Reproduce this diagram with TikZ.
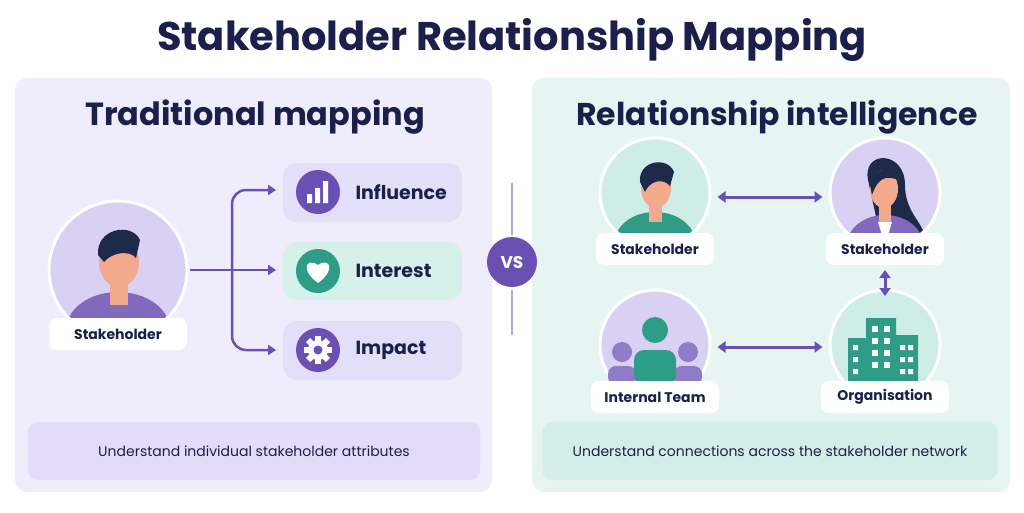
\documentclass[tikz,border=0pt]{standalone}
\usepackage{fontspec}
\setmainfont{Poppins}
\usetikzlibrary{arrows.meta,calc}
\definecolor{navy}{HTML}{1B1F4B}
\definecolor{purp}{HTML}{6B50B3}
\definecolor{lpan}{HTML}{EFECFB}
\definecolor{mpan}{HTML}{E6F5F1}
\definecolor{lcirc}{HTML}{D8D1F4}
\definecolor{mcirc}{HTML}{CDEDE6}
\definecolor{teal}{HTML}{2E9C86}
\definecolor{skin}{HTML}{F2A98C}
\definecolor{hair}{HTML}{1E2A4A}
\definecolor{lbox}{HTML}{E2DCF8}
\definecolor{mbox}{HTML}{D3EEE8}
\definecolor{pill}{HTML}{E4DFF8}
\definecolor{pillm}{HTML}{D6F0EA}
\begin{document}
\begin{tikzpicture}[x=1pt,y=-1pt,
 panel/.style={rounded corners=12pt,draw=none},
 lab/.style={fill=white,rounded corners=8pt,minimum height=32pt,font=\fontsize{14}{16}\selectfont\bfseries,text=navy},
 conn/.style={draw=purp,line width=2.5pt,-{Triangle[length=8pt,width=10pt]}},
 dbl/.style={draw=purp,line width=3pt,{Triangle[length=8pt,width=11pt]}-{Triangle[length=8pt,width=11pt]}},
 bigc/.style={circle,draw=white,line width=3pt},
 pilltxt/.style={font=\fontsize{19}{21}\selectfont\bfseries,text=navy,anchor=west}]
\useasboundingbox (0,0) rectangle (1024,512);
\fill[white] (0,0) rectangle (1024,512);
\node[font=\fontsize{40}{44}\selectfont\bfseries,text=navy] (title) at (512,40) {Stakeholder Relationship Mapping};
\fill[panel,lpan] (15,78) rectangle (492,492);
\fill[panel,mpan] (532,78) rectangle (1010,492);
\node[font=\fontsize{32}{35}\selectfont\bfseries,text=navy] (lt) at (255,117) {Traditional mapping};
\node[font=\fontsize{31.5}{35}\selectfont\bfseries,text=navy] (rt) at (777,117) {Relationship intelligence};
% left stakeholder
\node[bigc,fill=lcirc,minimum size=138pt] (ls) at (118,270) {};
\begin{scope}
\clip (118,270) circle (67);
\fill[purp!85] (118,330) ellipse (52 and 38);
\fill[skin] (110,285) rectangle (128,305);
\fill[skin] (119,262) ellipse (20 and 25);
\fill[hair] (98,255) .. controls (96,228) and (132,222) .. (140,240) -- (136,258) .. controls (130,250) and (112,252) .. (104,262) -- cycle;
\end{scope}
\node[lab,minimum width=138pt] (lsl) at (118,334) {Stakeholder};
% pills
\fill[rounded corners=14pt,pill] (283,163) rectangle (462,222);
\fill[rounded corners=14pt,pillm] (283,242) rectangle (462,300);
\fill[rounded corners=14pt,pill] (283,321) rectangle (462,380);
\node[circle,fill=purp,minimum size=44pt] (i1) at (318,192) {};
\node[circle,fill=teal,minimum size=44pt] (i2) at (318,271) {};
\node[circle,fill=purp,minimum size=44pt] (i3) at (318,350) {};
\fill[white] (307,194) rectangle (312,203) (315,188) rectangle (320,203) (323,181) rectangle (328,203);
\fill[white] (318,283) .. controls (300,270) and (306,257) .. (318,265) .. controls (330,257) and (336,270) .. (318,283) -- cycle;
\foreach \a in {0,45,...,315} \fill[white,rotate around={\a:(318,350)}] (315,336) rectangle (321,342);
\fill[white] (318,350) circle (10);
\fill[purp] (318,350) circle (4.5);
\node[pilltxt] (t1) at (352,192) {Influence};
\node[pilltxt] (t2) at (352,271) {Interest};
\node[pilltxt] (t3) at (352,350) {Impact};
\coordinate (b0) at (190,270);
\coordinate (bj) at (232,270);
\draw[purp,line width=2.5pt] (b0) -- (bj);
\draw[conn,rounded corners=14pt] (bj) |- (276,190);
\draw[conn] (bj) -- (276,270);
\draw[conn,rounded corners=14pt] (bj) |- (276,350);
% VS
\draw[purp!50,line width=1.5pt] (512,183) -- (512,235) (512,290) -- (512,335);
\node[circle,fill=purp,minimum size=50pt,text=white,font=\fontsize{17}{19}\selectfont\bfseries] (vs) at (512,262) {VS};
% right circles
\node[bigc,fill=mcirc,minimum size=110pt] (r1) at (655,193) {};
\node[bigc,fill=lcirc,minimum size=110pt] (r2) at (885,193) {};
\node[bigc,fill=lcirc,minimum size=110pt] (r3) at (655,345) {};
\node[bigc,fill=mcirc,minimum size=110pt] (r4) at (885,345) {};
\begin{scope}
\clip (655,193) circle (53);
\fill[teal] (655,242) ellipse (40 and 30);
\fill[skin] (649,205) rectangle (662,222);
\fill[skin] (656,188) ellipse (15 and 20);
\fill[hair] (640,182) .. controls (638,160) and (668,156) .. (674,172) -- (670,186) .. controls (664,178) and (650,180) .. (645,192) -- cycle;
\end{scope}
\begin{scope}
\clip (885,193) circle (53);
\fill[hair] (868,180) .. controls (862,150) and (905,150) .. (905,185) .. controls (905,210) and (920,220) .. (925,235) -- (880,235) -- cycle;
\fill[purp!85] (885,245) ellipse (38 and 30);
\fill[white] (878,222) -- (892,222) -- (885,245) -- cycle;
\fill[skin] (879,205) rectangle (891,222);
\fill[skin] (884,189) ellipse (14 and 19);
\fill[hair] (870,185) .. controls (872,165) and (898,165) .. (900,180) .. controls (890,178) and (880,172) .. (872,195) -- cycle;
\end{scope}
\begin{scope}
\fill[purp!75] (622,352) circle (10) (688,352) circle (10);
\fill[purp!75,rounded corners=8pt] (608,366) rectangle (636,385) (674,366) rectangle (702,385);
\fill[teal] (655,330) circle (13);
\fill[teal,rounded corners=10pt] (634,350) rectangle (676,385);
\end{scope}
\fill[teal] (848,338) rectangle (868,388) (866,318) rectangle (896,388) (894,335) rectangle (918,388);
\foreach \x in {872,884} \foreach \y in {326,338,350,362} \fill[white] (\x,\y) rectangle +(6,6);
\foreach \y in {345,357,369} \fill[white] (853,\y) rectangle +(5,5) (900,\y) rectangle +(5,5) (908,\y) rectangle +(5,5);
\node[lab,minimum width=118pt] (r1l) at (655,249) {Stakeholder};
\node[lab,minimum width=118pt] (r2l) at (885,249) {Stakeholder};
\node[lab,minimum width=128pt] (r3l) at (655,397) {Internal Team};
\node[lab,minimum width=128pt] (r4l) at (885,397) {Organisation};
\draw[dbl] ($(r1.east)+(6,4)$) -- ($(r2.west)+(-6,4)$);
\draw[dbl] (885,270) -- (885,296);
\draw[dbl] ($(r3.east)+(6,2)$) -- ($(r4.west)+(-6,2)$);
% bottom
\node[fill=lbox,rounded corners=10pt,minimum width=452pt,minimum height=58pt,font=\fontsize{14}{16}\selectfont,text=navy] (lb) at (254,451) {Understand individual stakeholder attributes};
\node[fill=mbox,rounded corners=10pt,minimum width=455pt,minimum height=58pt,font=\fontsize{14}{16}\selectfont,text=navy] (rb) at (770,451) {Understand connections across the stakeholder network};
\end{tikzpicture}
\end{document}
